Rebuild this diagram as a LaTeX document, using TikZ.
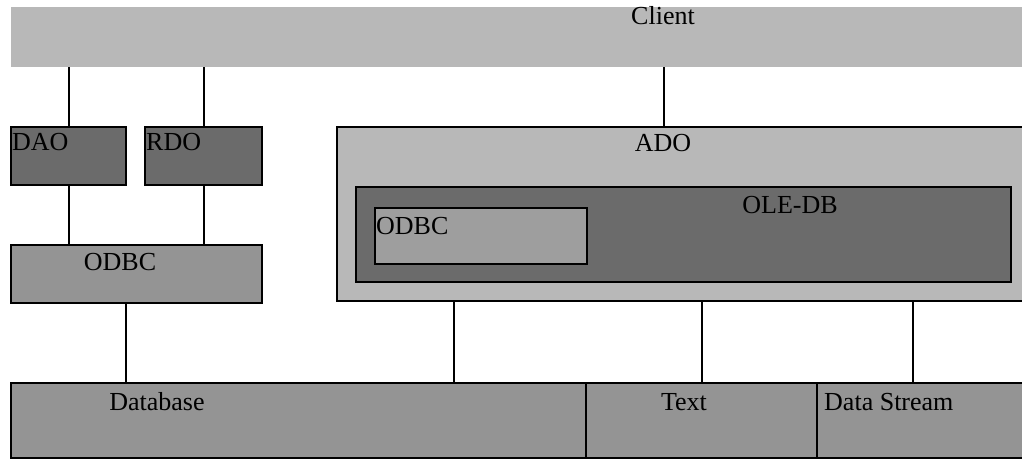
\documentclass[tikz,border=0pt]{standalone}
\usepackage{fontspec}
\setmainfont{Liberation Serif}
\begin{document}
\begin{tikzpicture}[x=1pt,y=-1pt,
  box/.style={draw=black,line width=1.3pt,anchor=north west,inner sep=0pt,outer sep=0pt},
  lbl/.style={inner sep=0pt,font=\fontsize{26}{28}\selectfont},
  conn/.style={draw=black,line width=1.3pt}]
\useasboundingbox (0,0) rectangle (1022,461);
\fill[white] (0,0) rectangle (1022,461);
% boxes
\node[anchor=north west,inner sep=0pt,outer sep=0pt,fill=black!28,minimum width=1011pt,minimum height=60pt] (client) at (11,7) {};
\node[box,fill=black!58,minimum width=115pt,minimum height=58pt] (dao) at (11,127) {};
\node[box,fill=black!58,minimum width=117pt,minimum height=58pt] (rdo) at (145,127) {};
\node[box,fill=black!42,minimum width=251pt,minimum height=58pt] (odbcl) at (11,245) {};
\node[box,fill=black!28,minimum width=690pt,minimum height=174pt] (ado) at (337,127) {};
\node[box,fill=black!58,minimum width=655pt,minimum height=95pt] (oledb) at (356,187) {};
\node[box,fill=black!38,minimum width=212pt,minimum height=56pt] (odbcr) at (375,208) {};
\node[box,fill=black!42,minimum width=575pt,minimum height=75pt] (db) at (11,383) {};
\node[box,fill=black!42,minimum width=231pt,minimum height=75pt] (txt) at (586,383) {};
\node[box,fill=black!42,minimum width=210pt,minimum height=75pt] (ds) at (817,383) {};
% labels
\node[lbl] (tclient) at (663,16) {Client};
\node[lbl,anchor=west] (tdao) at (12,142) {DAO};
\node[lbl,anchor=west] (trdo) at (146,142) {RDO};
\node[lbl] (tado) at (663,143) {ADO};
\node[lbl] (toledb) at (790,205) {OLE-DB};
\node[lbl,anchor=west] (todbcr) at (376,226) {ODBC};
\node[lbl] (todbcl) at (120,262) {ODBC};
\node[lbl] (tdb) at (157,402) {Database};
\node[lbl] (ttxt) at (684,402) {Text};
\node[lbl,anchor=west] (tds) at (824,402) {Data Stream};
% connectors
\draw[conn] (client.south -| 69,0) -- (dao.north -| 69,0);
\draw[conn] (client.south -| 204,0) -- (rdo.north -| 204,0);
\draw[conn] (client.south -| 664,0) -- (ado.north -| 664,0);
\draw[conn] (dao.south -| 69,0) -- (odbcl.north -| 69,0);
\draw[conn] (rdo.south -| 204,0) -- (odbcl.north -| 204,0);
\draw[conn] (odbcl.south -| 126,0) -- (db.north -| 126,0);
\draw[conn] (ado.south -| 454,0) -- (db.north -| 454,0);
\draw[conn] (ado.south -| 702,0) -- (txt.north -| 702,0);
\draw[conn] (ado.south -| 913,0) -- (ds.north -| 913,0);
\end{tikzpicture}
\end{document}
